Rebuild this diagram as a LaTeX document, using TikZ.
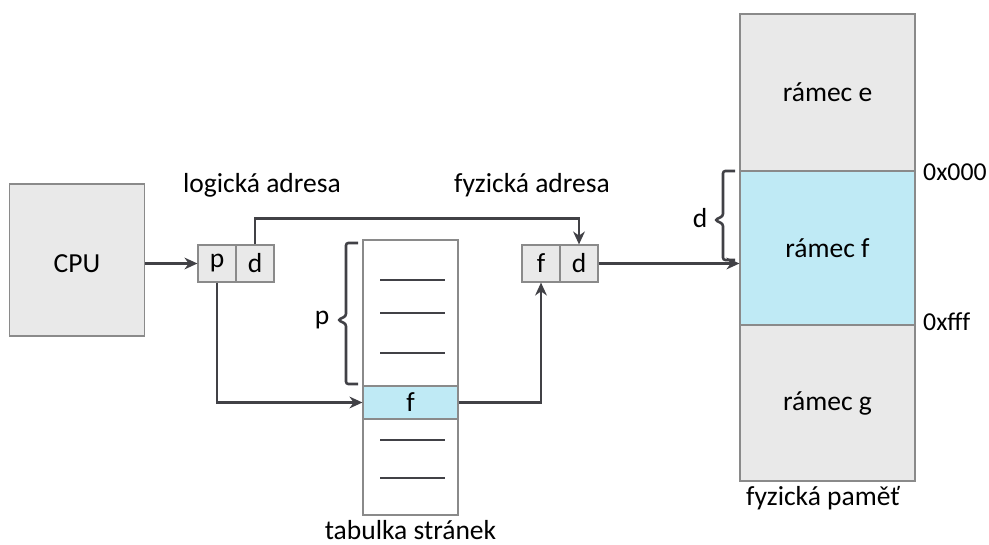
\documentclass[tikz,border=0pt]{standalone}
\usepackage{fontspec}
\setmainfont{Carlito}
\usetikzlibrary{positioning, arrows.meta, calc}

\definecolor{boxgray}{HTML}{E9E9E9}
\definecolor{edgegray}{HTML}{8A8A8A}
\definecolor{framblue}{HTML}{BFEAF5}
\definecolor{wiregray}{HTML}{414146}

\begin{document}
\begin{tikzpicture}[
    x=0.03cm, y=-0.03cm,
    font=\fontsize{23.5}{28}\selectfont,
    box/.style={rectangle, draw=edgegray, line width=1pt, fill=boxgray, inner sep=0pt},
    cell/.style={box, minimum width=1.14cm, minimum height=1.11cm},
    frame/.style={box, minimum width=5.25cm},
    addr/.style={anchor=west, inner sep=0pt, font=\fontsize{22}{26}\selectfont},
    arrow/.style={-{Stealth[length=11pt, width=10pt, inset=3.5pt]}, line width=2.2pt, draw=wiregray},
    brace/.style={line width=2.2pt, draw=wiregray, rounded corners=2pt},
    tline/.style={line width=2pt, draw=wiregray}
]

\useasboundingbox (0,0) rectangle (989,545);

% CPU
\node[box, minimum width=4.05cm, minimum height=4.56cm] (cpu) at (77,260) {};
\node (cpulbl) at (77,264) {CPU};

% logical address p|d
\node[cell] (pcell) at (217,263.5) {p};
\node[cell] (dcell) at (255,263.5) {d};
\node (logadr) at (262,185) {logická adresa};

% physical address f|d
\node[cell] (fcell) at (541,263.5) {f};
\node[cell] (fdcell) at (579,263.5) {d};
\node (fyzadr) at (532,185) {fyzická adresa};

% page table
\node[box, fill=white, minimum width=2.85cm, minimum height=8.25cm] (table) at (410.5,377.5) {};
\node[box, fill=framblue, minimum width=2.85cm, minimum height=0.99cm] (frow) at (410.5,402.5) {f};
\foreach \y in {280,313,353,440,478}
    \draw[tline] (380,\y) -- (445,\y);
\node (tablbl) at (410.5,530) {tabulka stránek};

% brace over the page index
\node (plbl) at (322,320) {p};
\draw[brace] (358,243) -- (346,243) -- (346,316) -- (338,320) -- (346,324) -- (346,384) -- (358,384);

% physical memory
\node[frame, minimum height=4.71cm] (frame) at (827.5,92.5) {rámec e};
\node[frame, fill=framblue, minimum height=4.62cm] (framf) at (827.5,248) {rámec f};
\node[frame, minimum height=4.68cm] (framg) at (827.5,403) {rámec g};
\node (memlbl) at (823,498) {fyzická paměť};
\node[addr] (lo) at (923,172) {0x000};
\node[addr] (hi) at (923,322) {0xfff};

% brace over the offset
\node (dlbl) at (700,218) {d};
\draw[brace] (735,171) -- (723,171) -- (723,216) -- (715,220) -- (723,224) -- (723,260) -- (735,260);

% connectors
\draw[arrow] (cpu.east |- pcell) -- (pcell.west);
\draw[arrow] (dcell.north) -- ++(0,-26) -| (fdcell.north);
\draw[arrow] (pcell.south) |- (frow.west);
\draw[arrow] (frow.east) -| (fcell.south);
\draw[arrow] (fdcell.east) -- (fdcell.east -| framf.west);

\end{tikzpicture}
\end{document}
